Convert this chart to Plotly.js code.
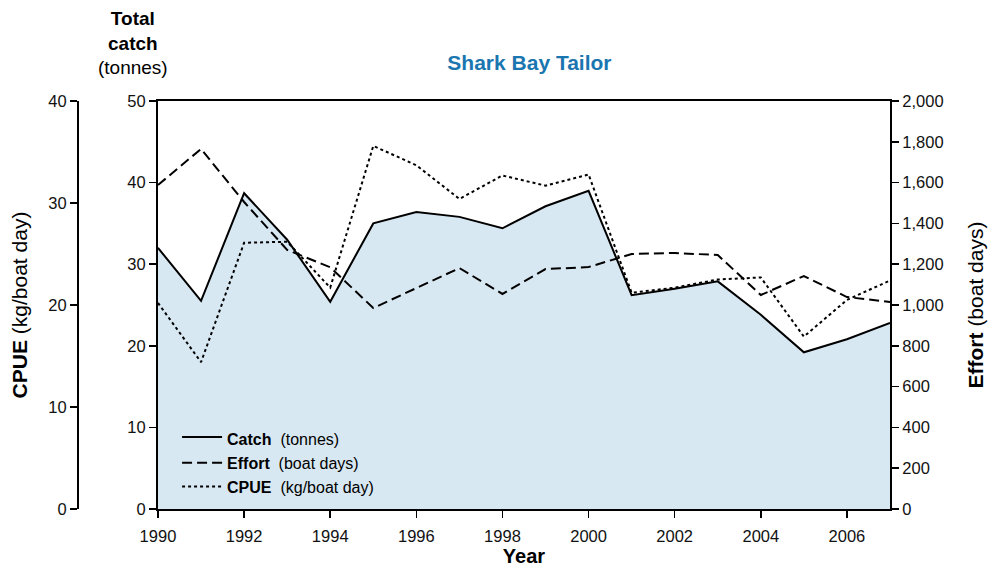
<!DOCTYPE html>
<html>
<head>
<meta charset="utf-8">
<script src="https://cdn.plot.ly/plotly-3.0.1.min.js"></script>
<style>html,body{margin:0;padding:0;background:#fff}#chart{width:990px;height:568px}</style>
</head>
<body>
<div id="chart"></div>
<script>
var years = [1990,1991,1992,1993,1994,1995,1996,1997,1998,1999,2000,2001,2002,2003,2004,2005,2006,2007];
var catchTonnes = [32.0,25.5,38.7,33.0,25.4,35.0,36.4,35.8,34.4,37.1,39.0,26.2,27.0,27.9,23.8,19.2,20.8,22.8];
var effortDays = [1588,1765,1505,1270,1185,985,1083,1181,1054,1176,1186,1250,1255,1245,1049,1142,1039,1015];
var cpueKg = [20.2,14.4,26.1,26.2,21.7,35.6,33.7,30.4,32.7,31.7,32.8,21.2,21.7,22.5,22.7,16.9,20.5,22.4];
var catchTicks = [0,10,20,30,40,50];
var effortTicks = [0,200,400,600,800,1000,1200,1400,1600,1800,2000];
var cpueTicks = [0,10,20,30,40];
var yearTicks = [1990,1992,1994,1996,1998,2000,2002,2004,2006];

var FONT = 'Liberation Sans, Arial, Helvetica, sans-serif';

var traces = [
  {x: years, y: catchTonnes, type: 'scatter', mode: 'lines', name: '<b>Catch</b>  (tonnes)',
   fill: 'tozeroy', fillcolor: '#d8e8f2', line: {color: '#000', width: 2}, yaxis: 'y'},
  {x: years, y: effortDays, type: 'scatter', mode: 'lines', name: '<b>Effort</b>  (boat days)',
   line: {color: '#000', width: 2, dash: '10px,5px'}, yaxis: 'y2'},
  {x: years, y: cpueKg, type: 'scatter', mode: 'lines', name: '<b>CPUE</b>  (kg/boat day)',
   line: {color: '#000', width: 2, dash: '3px,3px'}, yaxis: 'y3'}
];

var axisCommon = {showgrid: false, zeroline: false, showline: true, linecolor: '#000', linewidth: 2,
  ticks: 'outside', ticklen: 7, tickwidth: 1.5, tickcolor: '#000',
  tickfont: {family: FONT, size: 16.5, color: '#111'}};

var layout = {
  width: 990, height: 568,
  margin: {l: 78, r: 100, t: 101, b: 59},
  paper_bgcolor: '#fff', plot_bgcolor: '#fff',
  font: {family: FONT, color: '#000'},
  showlegend: true,
  legend: {x: 0.122, y: 0.012, xanchor: 'left', yanchor: 'bottom', bgcolor: 'rgba(0,0,0,0)',
    font: {family: FONT, size: 16, color: '#000'}, tracegroupgap: 0, itemwidth: 40},
  title: {text: '<b>Shark Bay Tailor</b>', font: {family: FONT, size: 21, color: '#1a76b0'},
    x: 0.5348, xanchor: 'center', y: 0.89, yanchor: 'middle'},
  xaxis: Object.assign({}, axisCommon, {domain: [0.0985, 1], range: [1990, 2007],
    tickvals: yearTicks, ticktext: yearTicks.map(String), mirror: true, ticklabelstandoff: 4,
    title: {text: '<b>Year</b>', font: {family: FONT, size: 20, color: '#000'}, standoff: 2}}),
  yaxis: Object.assign({}, axisCommon, {range: [0, 50], tickvals: catchTicks, anchor: 'x', side: 'left',
    ticklen: 7}),
  yaxis2: Object.assign({}, axisCommon, {range: [0, 2000], tickvals: effortTicks,
    ticktext: effortTicks.map(function(v){return v.toLocaleString('en-US');}),
    overlaying: 'y', side: 'right', anchor: 'x',
    title: {text: '<b>Effort</b> (boat days)', font: {family: FONT, size: 21, color: '#000'}, standoff: 26}}),
  yaxis3: Object.assign({}, axisCommon, {range: [0, 40], tickvals: cpueTicks,
    overlaying: 'y', side: 'left', anchor: 'free', position: 0,
    title: {text: '<b>CPUE</b> (kg/boat day)', font: {family: FONT, size: 21, color: '#000'}, standoff: 14}}),
  annotations: [
    {text: '<b>Total</b><br><b>catch</b><br>(tonnes)', xref: 'paper', yref: 'paper',
     x: 0.0677, y: 1.232, xanchor: 'center', yanchor: 'top', showarrow: false, align: 'center',
     font: {family: FONT, size: 19, color: '#000'}}
  ]
};

Plotly.newPlot('chart', traces, layout, {displayModeBar: false, staticPlot: true});
</script>
</body>
</html>
